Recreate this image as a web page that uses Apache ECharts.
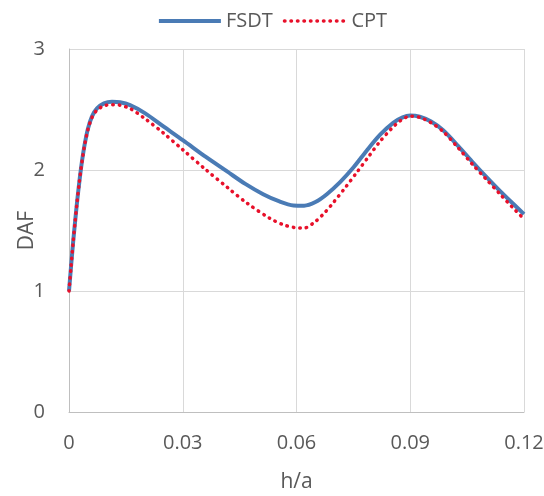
<!DOCTYPE html>
<html>
<head>
<meta charset="utf-8">
<script src="https://cdn.jsdelivr.net/npm/echarts@6/dist/echarts.min.js"></script>
<style>html,body{margin:0;padding:0;background:#fff}#c{width:544px;height:496px}</style>
</head>
<body>
<div id="c"></div>
<script>
var fsdtX = [0, 0.00053, 0.00105, 0.00158, 0.00211, 0.00264, 0.00316, 0.00369, 0.00422, 0.00501, 0.00607, 0.00738, 0.00923, 0.01134, 0.01345, 0.0161, 0.0200, 0.0249, 0.0301, 0.0360, 0.0416, 0.0465, 0.0512, 0.0555, 0.0592, 0.0620, 0.0650, 0.0680, 0.0715, 0.0750, 0.0785, 0.0820, 0.0855, 0.0880, 0.0900, 0.0925, 0.0955, 0.0986, 0.1026, 0.1066, 0.1100, 0.1137, 0.1170, 0.1200];
var fsdtY = [1.00, 1.199, 1.39, 1.564, 1.73, 1.879, 2.012, 2.128, 2.227, 2.343, 2.443, 2.509, 2.551, 2.564, 2.56, 2.536, 2.47, 2.36, 2.245, 2.11, 1.99, 1.885, 1.80, 1.74, 1.707, 1.705, 1.735, 1.80, 1.90, 2.02, 2.16, 2.29, 2.39, 2.435, 2.45, 2.44, 2.40, 2.33, 2.20, 2.06, 1.945, 1.825, 1.725, 1.635];
var cptX = [0, 0.00053, 0.00105, 0.00158, 0.00211, 0.00264, 0.00316, 0.00369, 0.00422, 0.00501, 0.00607, 0.00738, 0.00923, 0.01134, 0.01345, 0.0161, 0.0200, 0.0249, 0.0301, 0.0360, 0.0420, 0.0470, 0.0530, 0.0565, 0.0595, 0.0620, 0.0650, 0.0675, 0.0697, 0.0730, 0.0759, 0.0790, 0.0820, 0.0850, 0.0873, 0.0900, 0.0925, 0.0955, 0.0986, 0.1026, 0.1066, 0.1100, 0.1137, 0.1170, 0.1200];
var cptY = [1.00, 1.199, 1.39, 1.564, 1.73, 1.879, 2.01, 2.124, 2.222, 2.336, 2.435, 2.495, 2.53, 2.54, 2.535, 2.508, 2.425, 2.305, 2.165, 2.005, 1.85, 1.725, 1.60, 1.548, 1.524, 1.52, 1.575, 1.65, 1.73, 1.86, 1.98, 2.11, 2.235, 2.34, 2.405, 2.445, 2.435, 2.39, 2.32, 2.185, 2.04, 1.925, 1.80, 1.69, 1.595];
var xTicks = ['0', '0.03', '0.06', '0.09', '0.12'];
var yTicks = ['0', '1', '2', '3'];
var seriesNames = ['FSDT', 'CPT'];

function pairs(xs, ys) { return xs.map(function (x, i) { return [x, ys[i]]; }); }
var txt = '#595959';
var font = 'Open Sans';
var blueLine = { color: '#4a7bb5', width: 4 };
var redLine = { color: '#e8102a', width: 3.5, type: [0.5, 6], cap: 'round' };
var chart = echarts.init(document.getElementById('c'));
chart.setOption({
  animation: false,
  textStyle: { fontFamily: font },
  legend: {
    top: 6, left: 'center', itemWidth: 62, itemHeight: 14, itemGap: 10,
    itemStyle: { opacity: 0 },
    textStyle: { color: txt, fontSize: 20, fontFamily: font },
    data: [
      { name: seriesNames[0], lineStyle: blueLine },
      { name: seriesNames[1], lineStyle: redLine }
    ]
  },
  grid: { left: 69, right: 20, top: 49, bottom: 84, outerBoundsMode: 'none', containLabel: false },
  xAxis: {
    type: 'value', min: 0, max: 0.12, interval: 0.03,
    name: 'h/a', nameLocation: 'middle', nameGap: 60, nameMoveOverlap: false,
    nameTextStyle: { color: txt, fontSize: 21, fontFamily: font },
    axisLine: { show: true, lineStyle: { color: '#bfbfbf', width: 1 } },
    axisTick: { show: false },
    splitLine: { show: true, lineStyle: { color: '#d9d9d9', width: 1 } },
    axisLabel: { color: txt, fontSize: 20, margin: 21, fontFamily: font, hideOverlap: false,
      formatter: function (v) { return xTicks[Math.round(v / 0.03)]; } }
  },
  yAxis: {
    type: 'value', min: 0, max: 3, interval: 1,
    name: 'DAF', nameLocation: 'middle', nameGap: 31, nameMoveOverlap: false,
    nameTextStyle: { color: txt, fontSize: 21, fontFamily: font },
    axisLine: { show: true, lineStyle: { color: '#bfbfbf', width: 1 } },
    axisTick: { show: false },
    splitLine: { show: true, lineStyle: { color: '#d9d9d9', width: 1 } },
    axisLabel: { color: txt, fontSize: 20, margin: 24, fontFamily: font,
      formatter: function (v) { return yTicks[Math.round(v)]; } }
  },
  series: [
    { name: seriesNames[0], type: 'line', smooth: 0.3, showSymbol: false, symbol: 'none',
      data: pairs(fsdtX, fsdtY),
      lineStyle: blueLine, itemStyle: { color: '#4a7bb5' } },
    { name: seriesNames[1], type: 'line', smooth: 0.3, showSymbol: false, symbol: 'none',
      data: pairs(cptX, cptY),
      lineStyle: redLine, itemStyle: { color: '#e8102a' } }
  ]
});
</script>
</body>
</html>
